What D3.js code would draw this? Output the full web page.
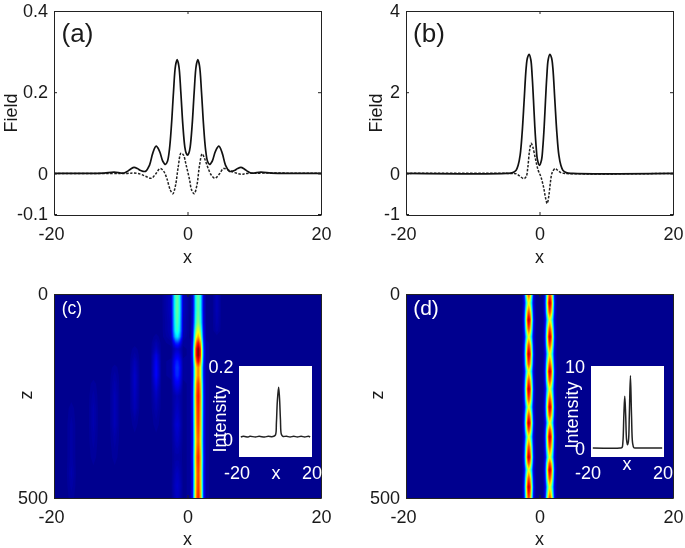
<!DOCTYPE html>
<html>
<head>
<meta charset="utf-8">
<script src="https://cdn.jsdelivr.net/npm/d3@7"></script>
<style>
  html, body { margin: 0; padding: 0; background: #fff; }
  svg { display: block; filter: blur(0.35px); }
  text { font-family: "Liberation Sans", Arial, sans-serif; fill: #1a1a1a; }
  .axis path, .axis line { stroke: #222; }
  .inset-label { fill: #fff; }
</style>
</head>
<body>
<div id="chart"></div>
<script>
// Panel (a) field profiles
var aSolidX = [-20,-14,-12.5,-11,-10,-9.5,-9,-8.5,-8,-7.5,-7,-6.3,-5.7,-5.2,-4.7,-4.2,-3.7,-3.3,-3,-2.7,-2.4,-2.1,-1.8,-1.55,-1.3,-1,-0.7,-0.4,-0.2,0,
  0.2,0.4,0.7,1,1.3,1.55,1.8,2.1,2.4,2.7,3,3.3,3.7,4.2,4.7,5.2,5.7,6.3,7,7.5,8,8.5,9,9.5,10,11,12.5,14,20];
var aSolidY = [0,0,0.0005,0.003,0.001,0.001,0.005,0.011,0.015,0.012,0.007,0.005,0.02,0.05,0.067,0.055,0.03,0.022,0.03,0.06,0.12,0.2,0.265,0.28,0.265,0.2,0.12,0.065,0.05,0.045,
  0.05,0.065,0.12,0.2,0.265,0.28,0.265,0.2,0.12,0.06,0.03,0.022,0.03,0.055,0.067,0.05,0.02,0.005,0.007,0.012,0.015,0.011,0.005,0.001,0.001,0.003,0.0005,0,0];
var aDashX = [-20,-9,-8,-7,-6.3,-5.4,-4.8,-4.1,-3.6,-3.1,-2.6,-2.2,-1.8,-1.4,-0.97,-0.6,-0.2,0.3,0.6,1,1.4,1.8,2.2,2.6,3.1,3.6,4.1,4.8,5.4,6.3,7.1,8,9,20];
var aDashY = [0,0,0.001,-0.002,-0.007,-0.012,-0.002,0.012,0.006,-0.012,-0.04,-0.05,-0.03,0.015,0.05,0.045,0.02,-0.015,-0.04,-0.05,-0.03,0.02,0.048,0.035,0.012,-0.005,-0.012,-0.001,0.012,0.007,0.002,-0.002,0,0];

// Panel (b) field profiles
var bSolidX = [-20,-5,-4,-3.5,-3.2,-2.9,-2.6,-2.3,-2,-1.8,-1.55,-1.3,-1.1,-0.9,-0.7,-0.5,-0.3,0,
  0.3,0.5,0.7,0.9,1.1,1.3,1.55,1.8,2,2.3,2.6,2.9,3.2,3.5,4,5,20];
var bSolidY = [0,0,0.02,0.08,0.2,0.45,1,1.8,2.6,2.85,2.93,2.8,2.4,1.8,1.15,0.65,0.33,0.2,
  0.33,0.65,1.15,1.8,2.4,2.8,2.93,2.85,2.6,1.8,1,0.45,0.2,0.08,0.02,0,0];
var bDashX = [-20,-4.5,-3.5,-3,-2.35,-2,-1.75,-1.5,-1.25,-1,-0.6,-0.2,0.2,0.6,0.9,1.15,1.4,1.65,1.9,2.35,2.7,3.2,3.8,20];
var bDashY = [0,0,-0.01,-0.06,-0.13,-0.08,0.15,0.55,0.74,0.65,0.35,0.08,-0.08,-0.33,-0.6,-0.74,-0.55,-0.2,0.02,0.12,0.08,0.02,0,0];

// Panel (c) intensity, rows follow cZ and columns follow cX (percent of colour range)
var cX = [-20,-18.2,-17.4,-16.6,-14.9,-14.1,-13.3,-11.7,-10.9,-10.1,-8.7,-7.9,-7.1,-5.5,-4.7,-3.9,
  -2.45,-2.1,-1.82,-1.55,-1.28,-1,-0.65,0.4,0.8,1.05,1.3,1.6,1.9,2.15,2.4,2.8,3.7,4.4,5.1,20];
var cZ = [0,40,70,90,105,120,135,150,165,180,200,220,250,280,320,360,400,440,470,500];
var cHeat = [
  [1, 1,1,1, 1,1,1, 1,1,1, 1,1,1, 1,1,1, 6,26,42,48,42,26,6, 1,8,24,41,48,41,24,8,1, 1,5,1, 1],
  [1, 1,1,1, 1,1,1, 1,1,1, 1,1,1, 1,1,1, 6,26,42,48,42,26,6, 1,8,24,41,48,41,24,8,1, 1,5,1, 1],
  [1, 1,1,1, 1,1,1, 1,1,1, 1,1,1, 1,1,1, 5,25,40,46,40,25,5, 1,9,26,44,52,44,26,9,1, 1,4,1, 1],
  [1, 1,1,1, 1,1,1, 1,1,1, 1,1,1, 1,1,1, 5,24,38,43,38,24,5, 1,11,31,53,62,53,31,11,1, 1,3,1, 1],
  [1, 1,1,1, 1,1,1, 1,1,1, 1,1,1, 1,2,1, 4,20,32,36,32,20,4, 1,12,36,61,72,61,36,12,1, 1,1,1, 1],
  [1, 1,1,1, 1,1,1, 1,1,1, 1,1,1, 1,4,1, 2,10,16,18,16,10,2, 2,15,44,75,88,75,44,15,2, 1,1,1, 1],
  [1, 1,1,1, 1,1,1, 1,1,1, 1,2,1, 1,6,1, 1,4,6,7,6,4,1, 2,17,50,85,100,85,50,17,2, 1,1,1, 1],
  [1, 1,1,1, 1,1,1, 1,1,1, 1,3,1, 1,10,1, 1,6,10,11,10,6,1, 2,17,50,85,100,85,50,17,2, 1,1,1, 1],
  [1, 1,1,1, 1,1,1, 1,1,1, 1,5,1, 1,12,1, 2,9,14,16,14,9,2, 2,15,45,76,90,76,45,15,2, 1,1,1, 1],
  [1, 1,1,1, 1,1,1, 1,2,1, 1,6,1, 1,13,1, 2,10,16,18,16,10,2, 2,13,38,65,76,65,38,13,2, 1,1,1, 1],
  [1, 1,1,1, 1,1,1, 1,3,1, 1,7,1, 1,13,1, 2,9,15,17,15,9,2, 2,13,38,65,76,65,38,13,2, 1,1,1, 1],
  [1, 1,1,1, 1,2,1, 1,4,1, 1,7,1, 1,10,1, 1,7,11,12,11,7,1, 2,14,42,71,84,71,42,14,2, 1,1,1, 1],
  [1, 1,1,1, 1,3,1, 1,5,1, 1,6,1, 1,6,1, 1,3,4,5,4,3,1, 2,15,44,75,88,75,44,15,2, 1,1,1, 1],
  [1, 1,2,1, 1,4,1, 1,5,1, 1,5,1, 1,4,1, 1,3,5,6,5,3,1, 2,15,43,73,86,73,43,15,2, 1,1,1, 1],
  [1, 1,3,1, 1,4,1, 1,5,1, 1,2,1, 1,2,1, 1,4,7,8,7,4,1, 2,14,42,71,84,71,42,14,2, 1,1,1, 1],
  [1, 1,3,1, 1,3,1, 1,3,1, 1,1,1, 1,1,1, 1,3,5,6,5,3,1, 2,14,40,68,80,68,40,14,2, 1,1,1, 1],
  [1, 1,3,1, 1,2,1, 1,2,1, 1,1,1, 1,1,1, 1,2,3,3,3,2,1, 2,15,43,73,86,73,43,15,2, 1,1,1, 1],
  [1, 1,4,1, 1,1,1, 1,1,1, 1,1,1, 1,1,1, 1,3,5,6,5,3,1, 2,14,41,70,83,70,41,14,2, 1,1,1, 1],
  [1, 1,3,1, 1,1,1, 1,1,1, 1,1,1, 1,1,1, 1,4,6,7,6,4,1, 2,14,42,71,84,71,42,14,2, 1,1,1, 1],
  [1, 1,2,1, 1,1,1, 1,1,1, 1,1,1, 1,1,1, 1,3,5,6,5,3,1, 2,15,43,73,86,73,43,15,2, 1,1,1, 1]
];

// Panel (d) intensity, two beams breathing out of step
var dX = [-20,-2.7,-2.45,-2.24,-2.02,-1.81,-1.6,-1.39,-1.18,-0.96,-0.75,-0.5,
  0.45,0.7,0.91,1.12,1.34,1.55,1.76,1.98,2.19,2.4,2.65,20];
var dZ = [0,22,45,63,85,105,125,147,172,190,212,233,258,277,297,316,333,350,375,400,415,431,452,473,500];
var dHeat = [
  [1, 1,5,16,41,69,82,69,41,16,5,1, 1,5,16,41,69,82,69,41,16,5,1, 1],
  [1, 1,4,12,30,50,62,50,30,12,4,1, 1,6,19,48,81,96,81,48,19,6,1, 1],
  [1, 1,5,16,41,69,82,69,41,16,5,1, 1,5,16,41,69,82,69,41,16,5,1, 1],
  [1, 1,6,19,48,81,96,81,48,19,6,1, 1,4,12,30,50,62,50,30,12,4,1, 1],
  [1, 1,5,16,41,69,82,69,41,16,5,1, 1,5,16,41,69,82,69,41,16,5,1, 1],
  [1, 1,4,12,30,50,62,50,30,12,4,1, 1,6,19,48,81,96,81,48,19,6,1, 1],
  [1, 1,5,16,41,69,82,69,41,16,5,1, 1,5,16,41,69,82,69,41,16,5,1, 1],
  [1, 1,6,19,48,81,96,81,48,19,6,1, 1,4,12,30,50,62,50,30,12,4,1, 1],
  [1, 1,5,16,41,69,82,69,41,16,5,1, 1,5,16,41,69,82,69,41,16,5,1, 1],
  [1, 1,4,12,30,50,62,50,30,12,4,1, 1,6,19,48,81,96,81,48,19,6,1, 1],
  [1, 1,5,16,41,69,82,69,41,16,5,1, 1,5,16,41,69,82,69,41,16,5,1, 1],
  [1, 1,6,19,48,81,96,81,48,19,6,1, 1,4,12,30,50,62,50,30,12,4,1, 1],
  [1, 1,5,16,41,69,82,69,41,16,5,1, 1,5,16,41,69,82,69,41,16,5,1, 1],
  [1, 1,4,12,30,50,62,50,30,12,4,1, 1,6,19,48,81,96,81,48,19,6,1, 1],
  [1, 1,5,16,41,69,82,69,41,16,5,1, 1,5,16,41,69,82,69,41,16,5,1, 1],
  [1, 1,6,19,48,81,96,81,48,19,6,1, 1,4,12,30,50,62,50,30,12,4,1, 1],
  [1, 1,5,16,41,69,82,69,41,16,5,1, 1,5,16,41,69,82,69,41,16,5,1, 1],
  [1, 1,4,12,30,50,62,50,30,12,4,1, 1,6,19,48,81,96,81,48,19,6,1, 1],
  [1, 1,5,16,41,69,82,69,41,16,5,1, 1,5,16,41,69,82,69,41,16,5,1, 1],
  [1, 1,6,19,48,81,96,81,48,19,6,1, 1,4,12,30,50,62,50,30,12,4,1, 1],
  [1, 1,5,16,41,69,82,69,41,16,5,1, 1,5,16,41,69,82,69,41,16,5,1, 1],
  [1, 1,4,12,30,50,62,50,30,12,4,1, 1,6,19,48,81,96,81,48,19,6,1, 1],
  [1, 1,5,16,41,69,82,69,41,16,5,1, 1,5,16,41,69,82,69,41,16,5,1, 1],
  [1, 1,6,19,48,81,96,81,48,19,6,1, 1,4,12,30,50,62,50,30,12,4,1, 1],
  [1, 1,5,16,41,69,82,69,41,16,5,1, 1,5,16,41,69,82,69,41,16,5,1, 1]
];

// Inset intensity curves
var cInsetX = [-19,-17.5,-15,-14,-11,-9,-6,-4,-2,-1,0,0.5,1,1.7,2.2,2.7,3.2,4,6,8,10,12,14,16,18,19];
var cInsetY = [0,0.002,0,0.002,0,0.002,0,0.002,0.001,0.002,0.006,0.04,0.1,0.14,0.11,0.05,0.008,0.002,0.002,0,0.002,0,0.002,0,0.002,0];
var dInsetX = [-19,-4,-3,-2.5,-2,-1.5,-1,-0.5,0,0.5,1,1.6,2.2,2.8,3.5,4.5,19];
var dInsetY = [0,0,0.05,0.8,4,6.3,4,1,0.4,0.8,4,8.8,4,0.6,0.03,0,0];

var xTicks = [-20, 0, 20];
var aTicks = [-0.1, 0, 0.2, 0.4];
var bTicks = [-1, 0, 2, 4];
var zTicks = [0, 500];

var svgWidth = 685;
var svgHeight = 548;
var plotWidth = 267;
var plotHeight = 204;

var svg = d3.select("#chart")
  .append("svg")
  .attr("width", svgWidth)
  .attr("height", svgHeight);

// jet colours
var jet = d3.scaleLinear()
  .domain([0, 12.5, 37.5, 62.5, 87.5, 100])
  .range(["#00008f", "#0000ff", "#00ffff", "#ffff00", "#ff0000", "#800000"]);

function addLabel(parent, x, y, str, size, cls, rotate) {
  var t = parent.append("text")
    .attr("text-anchor", "middle")
    .attr("font-size", size)
    .attr("transform", `translate(${x},${y})` + (rotate ? " rotate(-90)" : ""))
    .attr("dy", "0.35em")
    .text(str);
  if (cls) t.classed(cls, true);
  return t;
}

// box with ticks on all four sides
function drawAxes(g, x, y, yTicks) {
  var fmt = d => String(d);
  var bottom = g.append("g").attr("class", "axis")
    .attr("transform", `translate(0,${plotHeight})`)
    .call(d3.axisBottom(x).tickValues(xTicks).tickFormat(fmt).tickSizeInner(-3).tickSizeOuter(0).tickPadding(12));
  // the -20 label sits a little left of its tick
  bottom.selectAll("text").attr("x", d => d < 0 ? -3 : 0);
  g.append("g").attr("class", "axis")
    .call(d3.axisTop(x).tickValues(xTicks).tickFormat("").tickSizeInner(-3).tickSizeOuter(0));
  g.append("g").attr("class", "axis")
    .call(d3.axisLeft(y).tickValues(yTicks).tickFormat(fmt).tickSizeInner(-3).tickSizeOuter(0).tickPadding(6));
  g.append("g").attr("class", "axis")
    .attr("transform", `translate(${plotWidth},0)`)
    .call(d3.axisRight(y).tickValues(yTicks).tickFormat("").tickSizeInner(-3).tickSizeOuter(0));
  g.selectAll(".axis text").attr("font-size", 18).attr("font-family", '"Liberation Sans", Arial, sans-serif');
}

function linePanel(left, top, yDomain, yTicks, solidX, solidY, dashX, dashY, name, yLabelX) {
  var g = svg.append("g").attr("transform", `translate(${left},${top})`);
  var x = d3.scaleLinear().domain([-20, 20]).range([0, plotWidth]);
  var y = d3.scaleLinear().domain(yDomain).range([plotHeight - 1, 0]);
  var line = d3.line()
    .x(d => x(d[0]))
    .y(d => y(d[1]))
    .curve(d3.curveCatmullRom.alpha(0.5));

  g.append("path")
    .datum(d3.zip(dashX, dashY))
    .attr("d", line)
    .attr("fill", "none")
    .attr("stroke", "#222")
    .attr("stroke-width", 1.5)
    .attr("stroke-dasharray", "2.5,1.5");
  g.append("path")
    .datum(d3.zip(solidX, solidY))
    .attr("d", line)
    .attr("fill", "none")
    .attr("stroke", "#111")
    .attr("stroke-width", 1.7);

  drawAxes(g, x, y, yTicks);
  addLabel(g, plotWidth / 2, plotHeight + 42, "x", 18);
  addLabel(g, yLabelX, 102, "Field", 18, null, true);
  addLabel(g, name[1], 22, name[0], 26);
}

function heatPanel(key, left, top, gridX, gridZ, heat, yLabelX, name, nameX, nameSize) {
  var g = svg.append("g").attr("transform", `translate(${left},${top})`);
  var x = d3.scaleLinear().domain([-20, 20]).range([0, plotWidth]);
  var z = d3.scaleLinear().domain([0, 500]).range([0, plotHeight]);

  g.append("clipPath").attr("id", "clip-" + key)
    .append("rect").attr("width", plotWidth).attr("height", plotHeight);
  var map = g.append("g").attr("clip-path", `url(#clip-${key})`);
  map.append("rect")
    .attr("width", plotWidth)
    .attr("height", plotHeight)
    .attr("fill", jet(0));

  // contours work in grid index space, so map the indices back onto the data values
  var colPos = d3.scaleLinear()
    .domain(gridX.map((d, i) => i + 0.5))
    .range(gridX.map(d => x(d)))
    .clamp(true);
  var rowPos = d3.scaleLinear()
    .domain(gridZ.map((d, i) => i + 0.5))
    .range(gridZ.map(d => z(d)))
    .clamp(true);
  var path = d3.geoPath(d3.geoTransform({
    point: function(px, py) { this.stream.point(colPos(px), rowPos(py)); }
  }));

  var contours = d3.contours()
    .size([gridX.length, gridZ.length])
    .thresholds(d3.range(1.5, 100, 1))
    (heat.flat());

  map.selectAll("path")
    .data(contours)
    .enter()
    .append("path")
    .attr("d", path)
    .attr("fill", d => jet(d.value));

  var y = d3.scaleLinear().domain([0, 500]).range([0, plotHeight]);
  drawAxes(g, x, y, zTicks);
  addLabel(g, plotWidth / 2, plotHeight + 41, "x", 18);
  addLabel(g, yLabelX, 101, "z", 18, null, true);
  addLabel(g, nameX, 14, name, nameSize, "inset-label");
}

function inset(left, top, yDomain, baseY, dataX, dataY, labels) {
  var w = 73;
  var h = 91;
  var g = svg.append("g").attr("transform", `translate(${left},${top})`);
  var x = d3.scaleLinear().domain([-20, 20]).range([0, w]);
  var y = d3.scaleLinear().domain(yDomain).range([baseY, 0]);
  g.append("rect").attr("width", w).attr("height", h).attr("fill", "#fff");
  g.append("path")
    .datum(d3.zip(dataX, dataY))
    .attr("d", d3.line().x(d => x(d[0])).y(d => y(d[1])).curve(d3.curveCatmullRom.alpha(0.5)))
    .attr("fill", "none")
    .attr("stroke", "#222")
    .attr("stroke-width", 1.5);
  labels.forEach(function(l) {
    addLabel(g, l[1], l[2], l[0], 18, "inset-label", l[3]);
  });
}

linePanel(54, 11, [-0.1, 0.4], aTicks, aSolidX, aSolidY, aDashX, aDashY, ["(a)", 23.5], -43);
linePanel(406, 11, [-1, 4], bTicks, bSolidX, bSolidY, bDashX, bDashY, ["(b)", 23], -30);

heatPanel("c", 54, 294, cX, cZ, cHeat, -28, "(c)", 18, 17.5);
heatPanel("d", 406, 294, dX, dZ, dHeat, -29, "(d)", 20, 21);

inset(239, 366, [0, 0.2], 71, cInsetX, cInsetY, [
  ["0.2", -18, 1], ["0", -11, 74], ["Intensity", -19, 53, true],
  ["-20", -2, 107], ["x", 37, 107], ["20", 73, 107]
]);
inset(591, 366, [0, 10], 82, dInsetX, dInsetY, [
  ["10", -16, 1], ["0", -11, 83], ["Intensity", -19, 49, true],
  ["-20", -3, 107], ["x", 36, 98], ["20", 72, 107]
]);
</script>
</body>
</html>
